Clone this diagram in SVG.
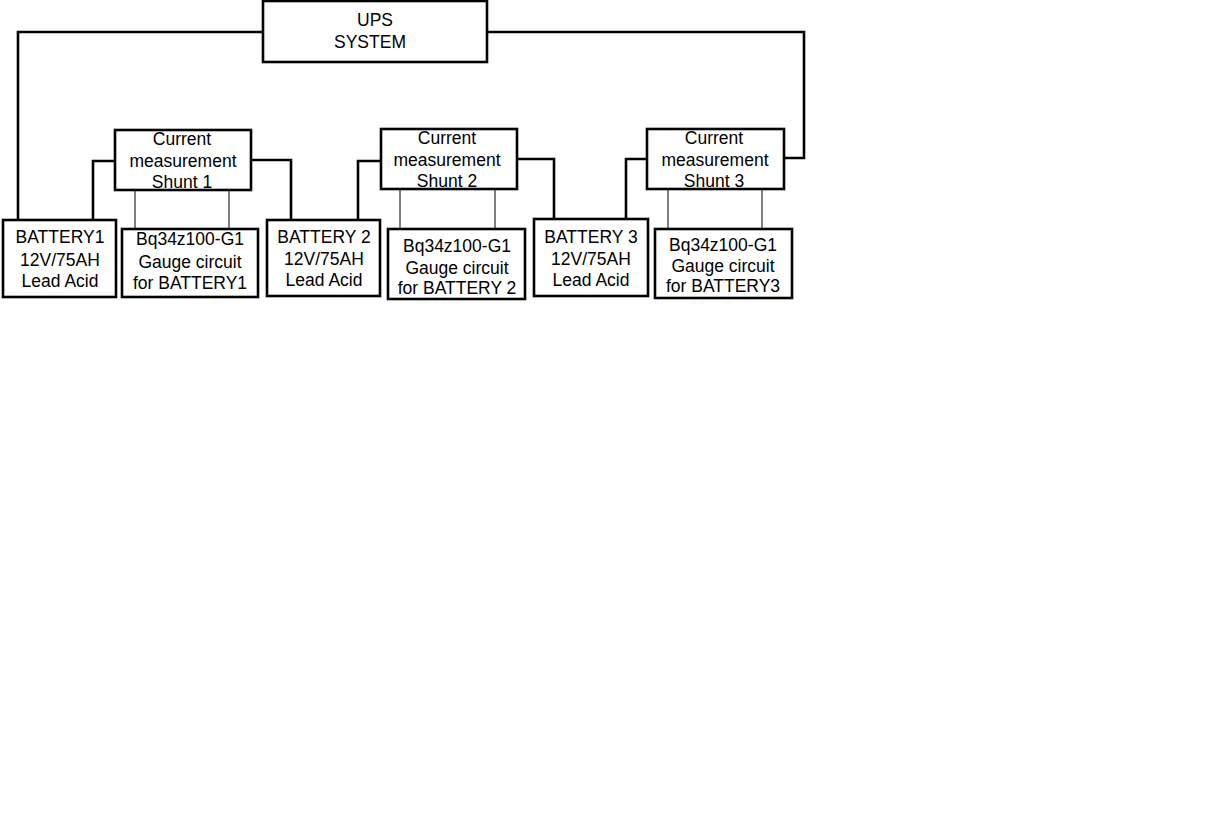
<svg xmlns="http://www.w3.org/2000/svg" width="1230" height="820" viewBox="0 0 1230 820">
<style>
.box{fill:#fff;stroke:#000;stroke-width:2.6}
.w{fill:none;stroke:#000;stroke-width:2.6;stroke-linejoin:miter}
.t{fill:none;stroke:#000;stroke-width:1}
text{font-family:"Liberation Sans",Arial,sans-serif;font-size:17.5px;fill:#000;text-anchor:middle}
</style>
<rect width="1230" height="820" fill="#fff"/>
<g id="connectors">
<polyline class="w" points="263,32 18,32 18,220"/>
<polyline class="w" points="487,32 804,32 804,158 784,158"/>
<polyline class="w" points="93,220 93,161 115,161"/>
<polyline class="w" points="251,160 291,160 291,220"/>
<polyline class="w" points="358,220 358,161 381,161"/>
<polyline class="w" points="517,159 554,159 554,219"/>
<polyline class="w" points="626,219 626,159 647,159"/>
<line class="t" x1="135" y1="190" x2="135" y2="229"/>
<line class="t" x1="229" y1="190" x2="229" y2="229"/>
<line class="t" x1="400" y1="190" x2="400" y2="229"/>
<line class="t" x1="495" y1="190" x2="495" y2="229"/>
<line class="t" x1="668" y1="190" x2="668" y2="229"/>
<line class="t" x1="762" y1="190" x2="762" y2="229"/>
</g>
<g id="ups">
<rect class="box" x="263" y="1" width="224" height="61"/>
<text x="375" y="26">UPS</text>
<text x="370" y="48">SYSTEM</text>
</g>
<g id="shunt1">
<rect class="box" x="115" y="130" width="136" height="60"/>
<text x="182" y="145">Current</text>
<text x="183" y="167">measurement</text>
<text x="182" y="188">Shunt 1</text>
</g>
<g id="shunt2">
<rect class="box" x="381" y="129" width="136" height="60"/>
<text x="447" y="144">Current</text>
<text x="447" y="166">measurement</text>
<text x="447" y="187">Shunt 2</text>
</g>
<g id="shunt3">
<rect class="box" x="647" y="129" width="137" height="60"/>
<text x="714" y="144">Current</text>
<text x="715" y="166">measurement</text>
<text x="714" y="187">Shunt 3</text>
</g>
<g id="battery1">
<rect class="box" x="3" y="220" width="113" height="77"/>
<text x="60" y="243">BATTERY1</text>
<text x="60" y="266">12V/75AH</text>
<text x="60" y="287">Lead Acid</text>
</g>
<g id="gauge1">
<rect class="box" x="122" y="229" width="136" height="68"/>
<text x="190" y="245">Bq34z100-G1</text>
<text x="190" y="268">Gauge circuit</text>
<text x="190" y="289">for BATTERY1</text>
</g>
<g id="battery2">
<rect class="box" x="267" y="220" width="113" height="76"/>
<text x="324" y="243">BATTERY 2</text>
<text x="324" y="265">12V/75AH</text>
<text x="324" y="286">Lead Acid</text>
</g>
<g id="gauge2">
<rect class="box" x="388" y="229" width="137" height="70"/>
<text x="457" y="252">Bq34z100-G1</text>
<text x="457" y="274">Gauge circuit</text>
<text x="457" y="294">for BATTERY 2</text>
</g>
<g id="battery3">
<rect class="box" x="534" y="219" width="114" height="77"/>
<text x="591" y="243">BATTERY 3</text>
<text x="591" y="265">12V/75AH</text>
<text x="591" y="286">Lead Acid</text>
</g>
<g id="gauge3">
<rect class="box" x="655" y="229" width="137" height="69"/>
<text x="723" y="251">Bq34z100-G1</text>
<text x="723" y="272">Gauge circuit</text>
<text x="723" y="292">for BATTERY3</text>
</g>
</svg>
